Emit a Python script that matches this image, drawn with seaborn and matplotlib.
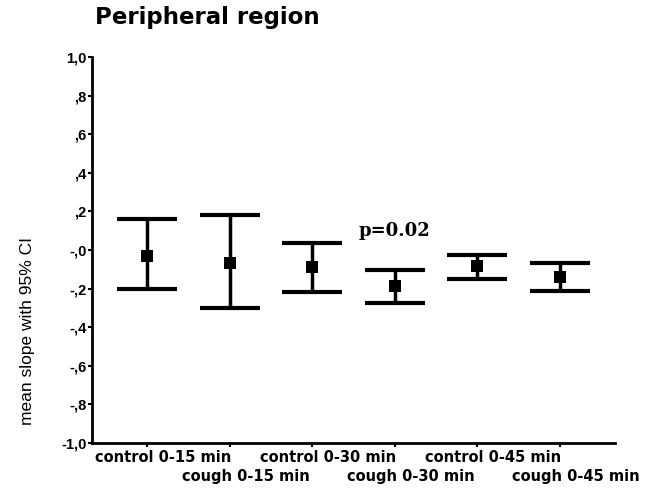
import numpy as np
import pandas as pd
import seaborn as sns
import matplotlib.pyplot as plt
from matplotlib import transforms

# data
groups = ["control 0-15 min", "cough 0-15 min", "control 0-30 min",
          "cough 0-30 min", "control 0-45 min", "cough 0-45 min"]
means = [-0.03, -0.065, -0.09, -0.185, -0.085, -0.14]
ci_low = [-0.20, -0.30, -0.22, -0.275, -0.15, -0.21]
ci_high = [0.16, 0.18, 0.035, -0.105, -0.025, -0.065]
ytick_vals = [1.0, 0.8, 0.6, 0.4, 0.2, 0.0, -0.2, -0.4, -0.6, -0.8, -1.0]
ytick_text = ["1,0", ",8", ",6", ",4", ",2", "-,0", "-,2", "-,4", "-,6", "-,8", "-1,0"]

df = pd.DataFrame({"group": groups, "mean": means, "lo": ci_low, "hi": ci_high})
df["pos"] = np.arange(len(df))

sns.set_style("ticks")
plt.rcParams["font.family"] = ["Liberation Sans", "DejaVu Sans"]
plt.rcParams["text.color"] = "black"
plt.rcParams["axes.labelcolor"] = "black"
plt.rcParams["xtick.color"] = "black"
plt.rcParams["ytick.color"] = "black"

fig = plt.figure(figsize=(6.58, 4.92), dpi=100)
ax = fig.add_axes([0.14, 0.0996, 0.795, 0.7845])

# CI bars with wide caps
ax.errorbar(df["pos"], df["mean"],
            yerr=[df["mean"] - df["lo"], df["hi"] - df["mean"]],
            fmt="none", ecolor="black", elinewidth=2.5, capsize=21.5, capthick=3)
# means as squares
sns.scatterplot(data=df, x="pos", y="mean", marker="s", s=75, color="black",
                edgecolor="black", linewidth=0, ax=ax, zorder=5)

ax.set_xlim(-0.67, 5.67)
ax.set_ylim(-1.0, 1.0)
ax.set_yticks(ytick_vals)
ax.set_yticklabels(ytick_text, fontsize=10.5, fontweight="bold")
ax.set_xticks(df["pos"])
ax.set_xticklabels(df["group"], fontsize=10.5, fontweight="bold", family="DejaVu Sans")
ax.tick_params(axis="x", length=3, width=1.5, pad=2)
ax.tick_params(axis="y", length=3, width=1.5, pad=1)
# stagger the x labels into two rows, nudged right like the original
for i, tk in enumerate(ax.xaxis.get_major_ticks()):
    tk.set_pad(2 if i % 2 == 0 else 16)
shift = transforms.ScaledTranslation(16 / 100, 0, fig.dpi_scale_trans)
for lab in ax.get_xticklabels():
    lab.set_transform(lab.get_transform() + shift)

ax.set_xlabel("")
ax.set_ylabel("mean slope with 95% CI", fontsize=12.5, va="center")
ax.yaxis.set_label_coords(-0.124, 0.29)
sns.despine(ax=ax)
for sp in ["left", "bottom"]:
    ax.spines[sp].set_linewidth(2)
    ax.spines[sp].set_color("black")

ax.text(3, 0.10, "p=0.02", ha="center", va="center", fontsize=13,
        fontweight="bold", family="DejaVu Serif")
fig.text(0.145, 0.965, "Peripheral region", fontsize=16.5, fontweight="bold",
         family="DejaVu Sans", ha="left", va="center")

fig.savefig("out.png", dpi=100)
